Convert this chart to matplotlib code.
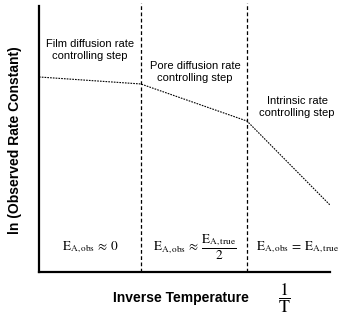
import matplotlib
matplotlib.use("Agg")
import matplotlib.pyplot as plt

plt.rcParams['font.family'] = ['Liberation Sans', 'DejaVu Sans']
plt.rcParams['mathtext.fontset'] = 'stix'

# Schematic Arrhenius plot: three rate-controlling regimes
inv_T = [0.0, 0.35, 0.715, 1.0]
ln_k = [0.725, 0.699, 0.561, 0.249]
boundaries = [0.35, 0.715]

regime_labels = ["Film diffusion rate\ncontrolling step",
                 "Pore diffusion rate\ncontrolling step",
                 "Intrinsic rate\ncontrolling step"]
regime_label_x = [0.175, 0.536, 0.887]
regime_label_y = [0.825, 0.743, 0.613]

energy_labels = [r"$\mathrm{E_{A,obs}}\,\approx\,0$",
                 r"$\mathrm{E_{A,obs}}\,\approx\,\dfrac{\mathrm{E_{A,true}}}{2}$",
                 r"$\mathrm{E_{A,obs}}\,=\,\mathrm{E_{A,true}}$"]
energy_x = [0.175, 0.536, 0.887]

fig = plt.figure(figsize=(3.57, 3.23), dpi=100)
ax = fig.add_axes([39/357, 51/323, 291/357, 269/323])

ax.plot(inv_T, ln_k, color='black', lw=0.8, linestyle=(0, (1.5, 1)))
for b in boundaries:
    ax.plot([b, b], [0, 1.0], color='black', lw=0.9, linestyle=(0, (3, 2)))

for lab, x, y in zip(regime_labels, regime_label_x, regime_label_y):
    ax.text(x, y, lab, ha='center', va='center', fontsize=8, linespacing=1.3)

for lab, x in zip(energy_labels, energy_x):
    ax.text(x, 0.093, lab, ha='center', va='center', fontsize=9.5)

ax.set_xlim(0, 1)
ax.set_ylim(0, 1)
ax.spines['top'].set_visible(False)
ax.spines['right'].set_visible(False)
for s in ['left', 'bottom']:
    ax.spines[s].set_linewidth(1.6)
ax.spines['left'].set_bounds(0, 0.99)
ax.set_xticks([])
ax.set_yticks([])

ax.text(-0.082, 0.49, "ln (Observed Rate Constant)", rotation=90,
        ha='center', va='center', fontsize=10, fontweight='bold',
        transform=ax.transAxes)
ax.text(0.488, -0.097, "Inverse Temperature", ha='center', va='center',
        fontsize=10, fontweight='bold', transform=ax.transAxes)
ax.text(0.845, -0.097, r"$\dfrac{1}{\mathrm{T}}$", ha='center', va='center',
        fontsize=13, transform=ax.transAxes)

fig.savefig("out.png", dpi=100)
